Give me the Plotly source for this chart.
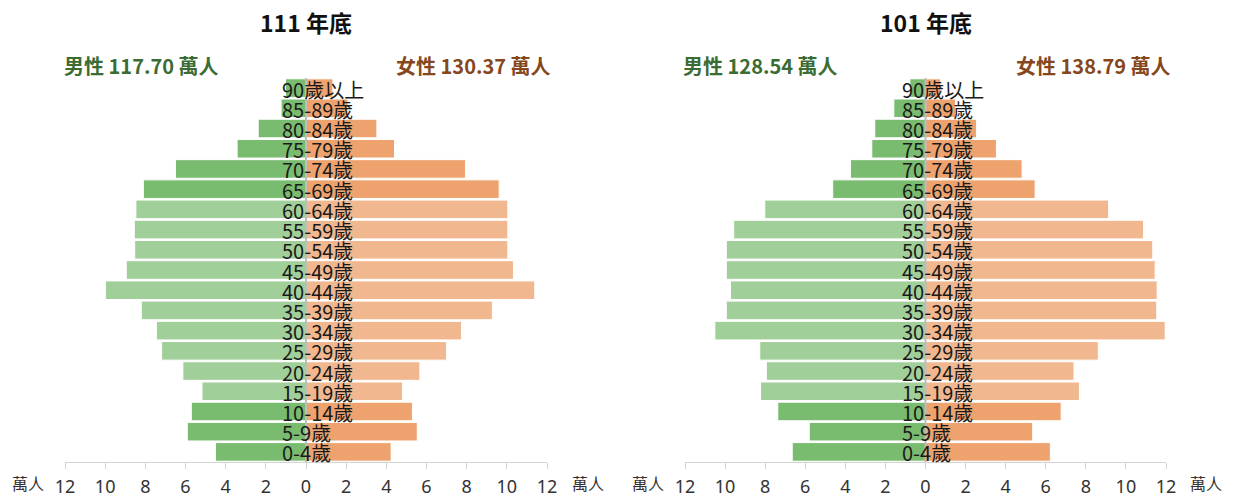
import plotly.graph_objects as go

ages = ["0-4歲", "5-9歲", "10-14歲", "15-19歲", "20-24歲", "25-29歲", "30-34歲",
        "35-39歲", "40-44歲", "45-49歲", "50-54歲", "55-59歲", "60-64歲",
        "65-69歲", "70-74歲", "75-79歲", "80-84歲", "85-89歲", "90歲以上"]

# 111 年底 (萬人)
male_111 = [4.51, 5.91, 5.71, 5.18, 6.13, 7.19, 7.45, 8.20, 9.99, 8.95,
            8.53, 8.55, 8.47, 8.10, 6.50, 3.43, 2.38, 1.24, 1.02]
female_111 = [4.24, 5.54, 5.30, 4.81, 5.67, 7.00, 7.74, 9.28, 11.39, 10.33,
              10.05, 10.05, 10.05, 9.62, 7.94, 4.41, 3.53, 2.09, 1.34]

# 101 年底 (萬人)
male_101 = [6.65, 5.80, 7.37, 8.23, 7.94, 8.27, 10.51, 9.94, 9.73, 9.94,
            9.94, 9.57, 8.02, 4.63, 3.74, 2.68, 2.53, 1.58, 0.78]
female_101 = [6.23, 5.35, 6.77, 7.68, 7.41, 8.62, 11.96, 11.54, 11.56, 11.46,
              11.34, 10.88, 9.14, 5.47, 4.82, 3.54, 2.55, 1.50, 0.76]

titles = ["111 年底", "101 年底"]
male_totals = ["男性 117.70 萬人", "男性 128.54 萬人"]
female_totals = ["女性 130.37 萬人", "女性 138.79 萬人"]
unit_label = "萬人"

tick_vals = [-12, -10, -8, -6, -4, -2, 0, 2, 4, 6, 8, 10, 12]
tick_text = [str(abs(v)) for v in tick_vals]

FONT = "Noto Sans CJK TC"
G_DARK, G_LIGHT = "#79bb6f", "#a1cf99"
O_DARK, O_LIGHT = "#eea36f", "#f1b78f"
dark_groups = {"0-4歲", "5-9歲", "10-14歲", "65-69歲", "70-74歲", "75-79歲",
               "80-84歲", "85-89歲", "90歲以上"}

male_colors = [G_DARK if a in dark_groups else G_LIGHT for a in ages]
female_colors = [O_DARK if a in dark_groups else O_LIGHT for a in ages]

fig = go.Figure()
datasets = [(male_111, female_111), (male_101, female_101)]
for i, (m, f) in enumerate(datasets):
    xa = "x" if i == 0 else "x2"
    ya = "y" if i == 0 else "y2"
    fig.add_trace(go.Bar(y=ages, x=[-v for v in m], orientation="h",
                         marker=dict(color=male_colors, line=dict(color="white", width=1)),
                         xaxis=xa, yaxis=ya, showlegend=False, hoverinfo="skip"))
    fig.add_trace(go.Bar(y=ages, x=f, orientation="h",
                         marker=dict(color=female_colors, line=dict(color="white", width=1)),
                         xaxis=xa, yaxis=ya, showlegend=False, hoverinfo="skip"))

# page body has an 8px margin; the figure is sized to fill the rest of the window
OFF = 8
W, H = 1233 - OFF, 496 - OFF

def px(x):
    return (x - OFF) / W

def py(y):
    return 1 - (y - OFF) / H

dom_l = [px(65), px(547)]
dom_r = [px(685), px(1166)]
ydom = [py(462), py(78)]

axis_common = dict(range=[-12, 12], tickvals=tick_vals, ticktext=tick_text,
                   showgrid=False, zeroline=False, showline=True, linecolor="#d4d4d4",
                   linewidth=1, ticks="outside", ticklen=6, tickcolor="#d4d4d4",
                   ticklabelstandoff=2, automargin=False,
                   tickfont=dict(family="Noto Sans", size=18, color="#333333"), fixedrange=True)
yaxis_common = dict(showticklabels=False, showgrid=False, zeroline=False, showline=False,
                    range=[-0.5, 18.5], domain=ydom, fixedrange=True, automargin=False)

fig.update_layout(
    width=W, height=H,
    margin=dict(l=0, r=0, t=0, b=0, autoexpand=False),
    paper_bgcolor="white", plot_bgcolor="white",
    barmode="overlay", bargap=0.08,
    xaxis=dict(domain=dom_l, anchor="y", **axis_common),
    xaxis2=dict(domain=dom_r, anchor="y2", **axis_common),
    yaxis=dict(anchor="x", **yaxis_common),
    yaxis2=dict(anchor="x2", **yaxis_common),
    font=dict(family=FONT),
)

annotations = []
shapes = []
centers = [306, 926]
mx = [141, 760]
fx = [473, 1093]
unit_x = [(28, 588), (648, 1206)]

def pann(text, x, y, size, color):
    return dict(text=text, x=px(x), y=py(y), xref="paper", yref="paper",
                xanchor="center", yanchor="middle", showarrow=False,
                font=dict(family=FONT, size=size, color=color))

for i in range(2):
    xa = "x" if i == 0 else "x2"
    ya = "y" if i == 0 else "y2"
    annotations.append(pann("<b>" + titles[i] + "</b>", centers[i], 22, 23, "#111111"))
    annotations.append(pann("<b>" + male_totals[i] + "</b>", mx[i], 66, 20, "#3b6c33"))
    annotations.append(pann("<b>" + female_totals[i] + "</b>", fx[i], 66, 20, "#86471c"))
    for ux in unit_x[i]:
        annotations.append(pann(unit_label, ux, 483, 16, "#333333"))
    for a in ages:
        annotations.append(dict(text=a, x=0, y=a, xref=xa, yref=ya, xanchor="left",
                                yanchor="middle", xshift=-26, yshift=-1, showarrow=False,
                                font=dict(family=FONT, size=20, color="#1a1a1a")))
    shapes.append(dict(type="line", xref=xa, yref=ya + " domain", x0=0, x1=0, y0=0, y1=1,
                       line=dict(color="#bdbdbd", width=2), layer="above"))

fig.update_layout(annotations=annotations, shapes=shapes)
fig.write_html("out.html")
